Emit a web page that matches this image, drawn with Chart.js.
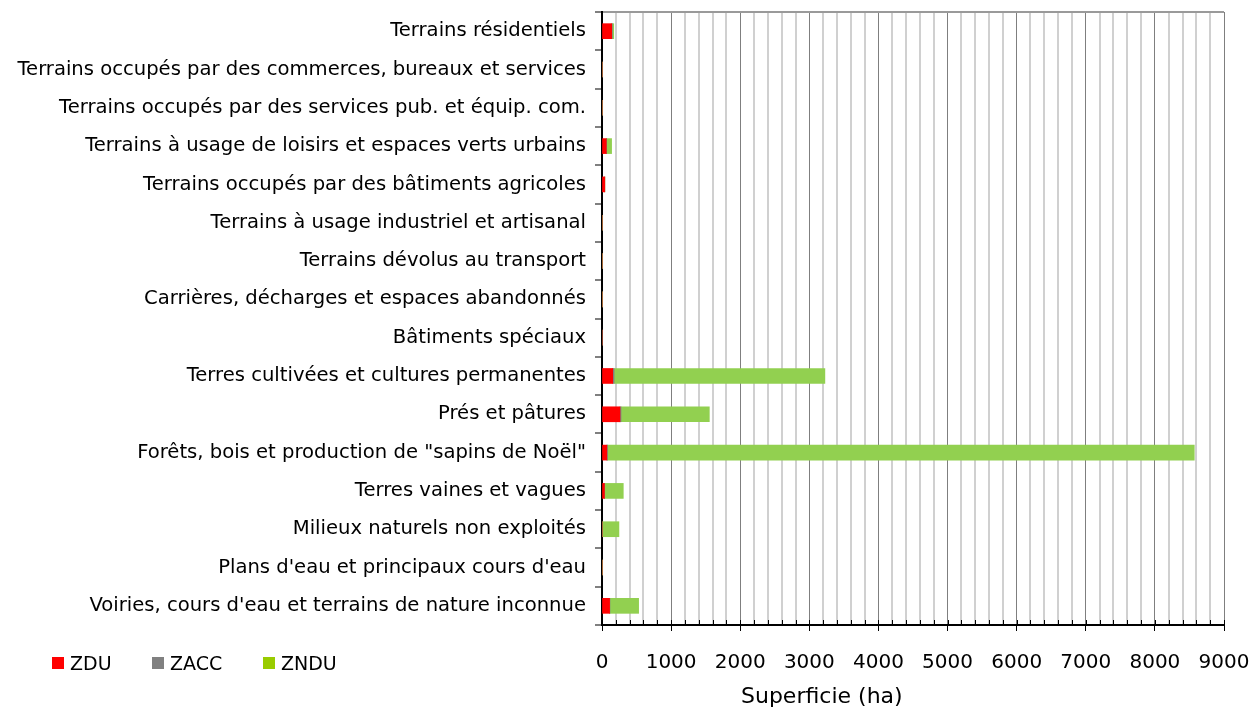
<!DOCTYPE html>
<html>
<head>
<meta charset="utf-8">
<script src="https://cdn.jsdelivr.net/npm/chart.js@4"></script>
<style>
  body { margin: 0; background: #fff; }
  #wrap { position: relative; width: 1255px; height: 711px; }
  #legend { position: absolute; left: 52px; top: 652px; font-family: "DejaVu Sans", sans-serif; font-size: 19px; color: #000; }
  #legend span.item { position: absolute; white-space: nowrap; }
  #legend span.box { display: inline-block; width: 12px; height: 12px; margin-right: 6px; vertical-align: 1px; }
  #x-title { position: absolute; left: 741px; top: 683px; font-family: "DejaVu Sans", sans-serif; font-size: 22px; color: #000; white-space: nowrap; }
</style>
</head>
<body>
<div id="wrap">
  <canvas id="chart-surface" width="1255" height="711"></canvas>
  <div id="legend"></div>
  <div id="x-title">Superficie (ha)</div>
</div>
<script>
const categories = [
    'Terrains résidentiels',
    'Terrains occupés par des commerces, bureaux et services',
    'Terrains occupés par des services pub. et équip. com.',
    'Terrains à usage de loisirs et espaces verts urbains',
    'Terrains occupés par des bâtiments agricoles',
    'Terrains à usage industriel et artisanal',
    'Terrains dévolus au transport',
    'Carrières, décharges et espaces abandonnés',
    'Bâtiments spéciaux',
    'Terres cultivées et cultures permanentes',
    'Prés et pâtures',
    'Forêts, bois et production de "sapins de Noël"',
    'Terres vaines et vagues',
    'Milieux naturels non exploités',
    "Plans d'eau et principaux cours d'eau",
    "Voiries, cours d'eau et terrains de nature inconnue"
];

const zdu  = [140, 0, 0, 62, 40, 0, 0, 0, 0, 155, 260, 70, 35, 0, 0, 110];
const zacc = [10, 0, 0, 5, 0, 0, 0, 0, 0, 20, 15, 10, 3, 0, 0, 5];
const zndu = [20, 8, 6, 72, 2, 6, 2, 4, 0, 3050, 1278, 8490, 270, 245, 2, 415];

const xMax = 9000;
const xStep = 200;

const seriesNames = ['ZDU', 'ZACC', 'ZNDU'];
const legendColors = ['#FF0000', '#808080', '#99CC00'];

// legend drawn as html under the labels column
const legendX = [0, 100, 211];
let legend = document.getElementById('legend');
seriesNames.forEach((name, i) => {
    let item = document.createElement('span');
    item.className = 'item';
    item.style.left = legendX[i] + 'px';
    item.innerHTML = '<span class="box" style="background:' + legendColors[i] + '"></span>' + name;
    legend.appendChild(item);
});

// small inward ticks on the bottom axis
const minorTicks = {
    id: 'minorTicks',
    afterDraw(chart) {
        const ctx = chart.ctx;
        const xs = chart.scales.x;
        const bottom = chart.chartArea.bottom;
        ctx.save();
        ctx.strokeStyle = '#000';
        ctx.lineWidth = 1;
        xs.ticks.forEach(t => {
            const px = Math.round(xs.getPixelForValue(t.value)) + 0.5;
            ctx.beginPath();
            ctx.moveTo(px, bottom);
            ctx.lineTo(px, bottom - 5);
            ctx.stroke();
        });
        ctx.restore();
    }
};

new Chart(document.getElementById('chart-surface'), {
    type: 'bar',
    data: {
        labels: categories,
        datasets: [
            { label: 'ZDU', data: zdu, backgroundColor: '#FF0000', barThickness: 15 },
            { label: 'ZACC', data: zacc, backgroundColor: '#808080', barThickness: 15 },
            { label: 'ZNDU', data: zndu, backgroundColor: '#92D050', barThickness: 15 }
        ]
    },
    options: {
        indexAxis: 'y',
        responsive: false,
        animation: false,
        layout: { padding: { top: 12, right: 31, left: 0, bottom: 0 } },
        plugins: {
            legend: { display: false },
            tooltip: { enabled: false }
        },
        scales: {
            x: {
                stacked: true,
                min: 0,
                max: xMax,
                afterFit: scale => {
                    scale.height = 86;
                    scale.paddingLeft = 0;
                    scale.paddingRight = 0;
                },
                ticks: {
                    stepSize: xStep,
                    autoSkip: false,
                    maxRotation: 0,
                    padding: 20,
                    color: '#000',
                    font: { family: 'DejaVu Sans', size: 20 },
                    callback: v => (v % 1000 === 0 ? v : '')
                },
                grid: {
                    color: c => (c.tick && c.tick.value % 1000 === 0 ? '#7F7F7F' : '#D0D0D0'),
                    lineWidth: c => (c.tick && c.tick.value % 1000 === 0 ? 1 : 2),
                    tickColor: c => (c.tick && c.tick.value % 1000 === 0 ? '#000' : 'rgba(0,0,0,0)'),
                    tickLength: 6,
                    tickWidth: 1
                },
                border: { color: '#000', width: 2 }
            },
            y: {
                stacked: true,
                afterFit: scale => {
                    scale.width = 602;
                    scale.paddingTop = 0;
                    scale.paddingBottom = 0;
                },
                ticks: {
                    padding: 9,
                    color: '#000',
                    font: { family: 'DejaVu Sans', size: 19.6 }
                },
                grid: {
                    offset: true,
                    color: c => (c.index === 0 ? '#9A9A9A' : 'rgba(0,0,0,0)'),
                    lineWidth: 2,
                    tickColor: '#808080',
                    tickLength: 7,
                    tickWidth: 2
                },
                border: { color: '#000', width: 2 }
            }
        }
    },
    plugins: [minorTicks]
});
</script>
</body>
</html>
